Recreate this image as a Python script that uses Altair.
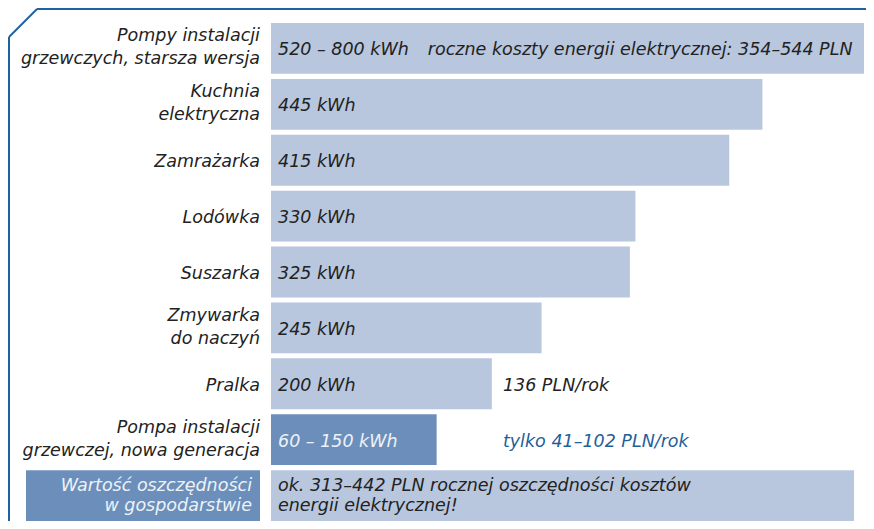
import altair as alt
import pandas as pd

# ---- data ----
categories = [
    "Pompy instalacji\ngrzewczych, starsza wersja",
    "Kuchnia\nelektryczna",
    "Zamrażarka",
    "Lodówka",
    "Suszarka",
    "Zmywarka\ndo naczyń",
    "Pralka",
    "Pompa instalacji\ngrzewczej, nowa generacja",
]
kwh_values = [800, 445, 415, 330, 325, 245, 200, 150]
value_labels = ["520 – 800 kWh", "445 kWh", "415 kWh", "330 kWh", "325 kWh",
                "245 kWh", "200 kWh", "60 – 150 kWh"]
is_new = [False, False, False, False, False, False, False, True]

note_texts = ["roczne koszty energii elektrycznej: 354–544 PLN", "136 PLN/rok", "tylko 41–102 PLN/rok"]
note_rows = [categories[0], categories[6], categories[7]]
note_kwh = [142, 210, 210]
note_new = [False, False, True]

summary_label = "Wartość oszczędności\nw gospodarstwie"
summary_text = "ok. 313–442 PLN rocznej oszczędności kosztów\nenergii elektrycznej!"

all_rows = categories + [summary_label]

# ---- style ----
LIGHT = "#b8c7de"
DARK = "#6b8fba"
BLUE = "#1f5f99"
INK = "#222222"
PALE = "#eef2f8"
FONT = "DejaVu Sans"
FS = 17.5

bars = pd.DataFrame({"row": categories, "kwh": kwh_values, "txt": value_labels, "new": is_new})
notes = pd.DataFrame({"row": note_rows, "txt": note_texts, "pos": note_kwh, "new": note_new})
summary = pd.DataFrame({"row": [summary_label], "txt": [summary_text]})
labels_df = pd.DataFrame({"row": categories})

yscale = alt.Scale(domain=all_rows, paddingInner=0.09, paddingOuter=0)
xscale = alt.Scale(domain=[0, 537], clamp=True, nice=False, zero=True)
Y = alt.Y("row:N", scale=yscale, axis=None, sort=all_rows)
TXT = dict(font=FONT, fontSize=FS, fontStyle="italic", baseline="middle")

bar_layer = alt.Chart(bars).mark_bar().encode(
    x=alt.X("kwh:Q", scale=xscale, axis=None),
    y=Y,
    color=alt.condition("datum.new", alt.value(DARK), alt.value(LIGHT)),
)

bar_text = alt.Chart(bars).mark_text(align="left", dx=7, dy=2, **TXT).encode(
    x=alt.datum(0),
    y=Y,
    text="txt:N",
    color=alt.condition("datum.new", alt.value(PALE), alt.value(INK)),
)

note_layer = alt.Chart(notes).mark_text(align="left", dy=2, **TXT).encode(
    x=alt.X("pos:Q", scale=xscale),
    y=Y,
    text="txt:N",
    color=alt.condition("datum.new", alt.value(BLUE), alt.value(INK)),
)

summary_bar = alt.Chart(summary).mark_bar(color=LIGHT).encode(
    x=alt.datum(0), x2=alt.value(583), y=Y
)
summary_txt = alt.Chart(summary).mark_text(
    align="left", dx=7, dy=-10, lineBreak="\n", lineHeight=20, color=INK, **TXT
).encode(x=alt.datum(0), y=Y, text="txt:N")

label_box = alt.Chart(summary).mark_bar(color=DARK).encode(
    x=alt.value(-245), x2=alt.value(-11), y=Y
)

single_labels = alt.Chart(labels_df).transform_filter(
    "indexof(datum.row, '\\n') < 0"
).mark_text(align="right", dy=2, color=INK, **TXT).encode(
    x=alt.value(-11), y=Y, text="row:N"
)
double_labels = alt.Chart(labels_df).transform_filter(
    "indexof(datum.row, '\\n') >= 0"
).mark_text(align="right", dy=-12, lineBreak="\n", lineHeight=23, color=INK, **TXT).encode(
    x=alt.value(-11), y=Y, text="row:N"
)
summary_label_layer = alt.Chart(summary).mark_text(
    align="right", dy=-10, lineBreak="\n", lineHeight=20, color=PALE, **TXT
).encode(x=alt.value(-19), y=Y, text="row:N")

# decorative frame (pixel coordinates relative to the plot area)
FRAME = "#2062a0"
def seg(x1, y1, x2, y2):
    return alt.Chart(pd.DataFrame({"a": [0]})).mark_rule(color=FRAME, strokeWidth=2).encode(
        x=alt.value(x1), y=alt.value(y1), x2=alt.value(x2), y2=alt.value(y2)
    )

frame = seg(-262, 14, -234, -14) + seg(-234, -14, 596, -14) + seg(-262, 14, -262, 499)

chart = alt.layer(
    frame, bar_layer, summary_bar, label_box, bar_text, note_layer, summary_txt,
    single_labels, double_labels, summary_label_layer
).properties(
    width=593, height=498,
    autosize=alt.AutoSizeParams(type="none"),
    padding={"left": 263, "top": 15, "right": 2, "bottom": 0},
).configure_view(strokeWidth=0)

chart.save("out.html", embed_options={"renderer": "svg", "actions": False})
